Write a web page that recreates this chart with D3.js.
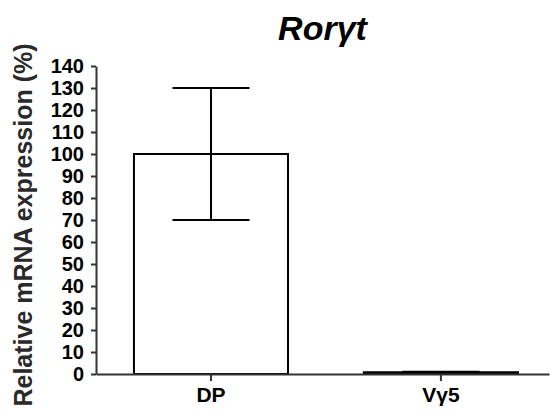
<!DOCTYPE html>
<html>
<head>
<meta charset="utf-8">
<script src="https://cdn.jsdelivr.net/npm/d3@7"></script>
<style>
  html, body { margin: 0; padding: 0; background: #fff; }
  svg { display: block; }
  text { font-family: "Liberation Sans", Arial, sans-serif; font-weight: bold; fill: #000; }
</style>
</head>
<body>
<svg id="chart" width="550" height="413"></svg>
<script>
// Relative Rorγt mRNA expression by cell population (mean ± error)
const categories = ["DP", "Vγ5"];
const means = [100, 0.8];
const errors = [30, 0.2];
const yTicks = [0, 10, 20, 30, 40, 50, 60, 70, 80, 90, 100, 110, 120, 130, 140];

const svg = d3.select("#chart");
const plotLeft = 96, plotRight = 549, plotTop = 66, plotBottom = 374;

const x = d3.scaleBand()
  .domain(categories)
  .range([plotLeft, plotRight])
  .paddingInner(0.33)
  .paddingOuter(0.15)
  .align(0.55);

const y = d3.scaleLinear().domain([0, 140]).range([plotBottom, plotTop]);

const data = categories.map((c, i) => ({ cat: c, mean: means[i], err: errors[i] }));

// Bars
svg.append("g").selectAll("rect")
  .data(data)
  .join("rect")
  .attr("x", d => x(d.cat))
  .attr("y", d => y(d.mean))
  .attr("width", x.bandwidth())
  .attr("height", d => y(0) - y(d.mean))
  .attr("fill", "#fff")
  .attr("stroke", "#000")
  .attr("stroke-width", 2);

// Error bars (whiskers with caps)
const eb = svg.append("g").attr("stroke", "#000").attr("stroke-width", 2);
data.forEach(d => {
  const cx = x(d.cat) + x.bandwidth() / 2;
  const hw = x.bandwidth() / 4;
  eb.append("line").attr("x1", cx).attr("x2", cx)
    .attr("y1", y(d.mean + d.err)).attr("y2", y(d.mean - d.err));
  eb.append("line").attr("x1", cx - hw).attr("x2", cx + hw)
    .attr("y1", y(d.mean + d.err)).attr("y2", y(d.mean + d.err));
  eb.append("line").attr("x1", cx - hw).attr("x2", cx + hw)
    .attr("y1", y(d.mean - d.err)).attr("y2", y(d.mean - d.err));
});

// Y axis
const yAxis = svg.append("g")
  .attr("transform", `translate(${plotLeft},0)`)
  .call(d3.axisLeft(y).tickValues(yTicks).tickSize(5).tickPadding(7).tickSizeOuter(0));
yAxis.select(".domain").attr("stroke", "#333").attr("stroke-width", 2);
yAxis.selectAll(".tick line").attr("stroke", "#333").attr("stroke-width", 2);
yAxis.selectAll("text").style("font-size", "20px").attr("fill", "#000");

// X axis
const xAxis = svg.append("g")
  .attr("transform", `translate(0,${plotBottom})`)
  .call(d3.axisBottom(x).tickSize(7).tickPadding(6).tickSizeOuter(0));
xAxis.select(".domain").attr("stroke", "#333").attr("stroke-width", 2);
xAxis.selectAll(".tick line").attr("stroke", "#333").attr("stroke-width", 2);
xAxis.selectAll("text").style("font-size", "21px").attr("fill", "#000");

// Title
const title = svg.append("text")
  .attr("x", (plotLeft + plotRight) / 2)
  .attr("y", 40)
  .attr("text-anchor", "middle")
  .style("font-size", "34px")
  .style("font-style", "italic");
title.append("tspan").text("Ror");
title.append("tspan").text("γ");
title.append("tspan").text("t");

// Y axis label
svg.append("text")
  .attr("transform", `translate(32,${225}) rotate(-90)`)
  .attr("text-anchor", "middle")
  .style("font-size", "25px")
  .style("fill", "#2a2a2a")
  .text("Relative mRNA expression (%)");
</script>
</body>
</html>
